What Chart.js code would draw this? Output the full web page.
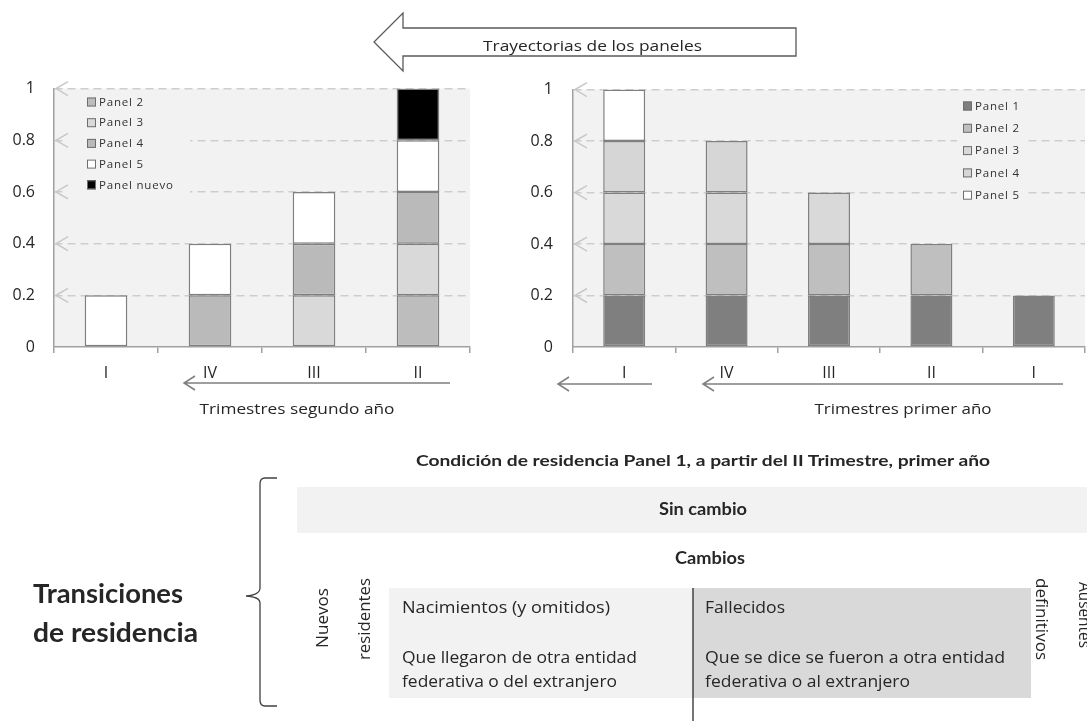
<!DOCTYPE html>
<html lang="es">
<head>
<meta charset="utf-8">
<script src="https://cdn.jsdelivr.net/npm/chart.js@4.4.1/dist/chart.umd.min.js"></script>
<style>
  html, body { margin: 0; padding: 0; background: #fff; }
  #lienzo { position: relative; width: 1087px; height: 721px; overflow: hidden; }
  #cajaSeg { position: absolute; left: 0; top: 60px; width: 490px; height: 360px; }
  #cajaPri { position: absolute; left: 500px; top: 60px; width: 587px; height: 360px; }
  #dibujo { position: absolute; left: 0; top: 0; z-index: 2; pointer-events: none; }
  #dibujo text { font-family: "Open Sans", sans-serif; fill: #262626; }
</style>
</head>
<body>
<div id="lienzo">
  <div id="cajaSeg"><canvas id="graficaSegundo"></canvas></div>
  <div id="cajaPri"><canvas id="graficaPrimero"></canvas></div>

  <svg id="dibujo" width="1087" height="721">
    <!-- flecha grande de trayectorias -->
    <polygon points="796,28 403,28 403,13 374,42 403,71 403,56 796,56" fill="#fff" stroke="#595959" stroke-width="1.3"/>
    <text x="483" y="51" font-size="15" textLength="219" lengthAdjust="spacingAndGlyphs">Trayectorias de los paneles</text>

    <!-- flechas bajo los ejes -->
    <g stroke="#7f7f7f" stroke-width="1.5" fill="none">
      <path d="M450 383 L184 383 M195 376 L184 383 L195 390"/>
      <path d="M652 384 L558 384 M569 377 L558 384 L569 391"/>
      <path d="M1063 384 L703 384 M714 377 L703 384 L714 391"/>
    </g>
    <text x="297" y="414" font-size="15" text-anchor="middle" textLength="195" lengthAdjust="spacingAndGlyphs">Trimestres segundo año</text>
    <text x="903" y="414" font-size="15" text-anchor="middle" textLength="177" lengthAdjust="spacingAndGlyphs">Trimestres primer año</text>

    <!-- parte inferior -->
    <text x="703" y="466" font-size="15" font-weight="700" text-anchor="middle" textLength="574" lengthAdjust="spacingAndGlyphs" style="font-family:Lato">Condición de residencia Panel 1, a partir del II Trimestre, primer año</text>

    <rect x="297" y="487" width="790" height="46" fill="#f2f2f2"/>
    <text x="703" y="515" font-size="16.5" font-weight="700" text-anchor="middle" textLength="88" lengthAdjust="spacingAndGlyphs" style="font-family:Lato">Sin cambio</text>
    <text x="710" y="564" font-size="16.5" font-weight="700" text-anchor="middle" textLength="70" lengthAdjust="spacingAndGlyphs" style="font-family:Lato">Cambios</text>

    <path d="M277 478 L265 478 Q260 478 260 484 L260 588 Q260 595 246 596 Q260 597 260 603 L260 700 Q260 706 265 706 L277 706" fill="none" stroke="#404040" stroke-width="1.3"/>
    <text x="33" y="603" font-size="26" font-weight="700" textLength="150" lengthAdjust="spacingAndGlyphs" style="font-family:Lato">Transiciones</text>
    <text x="33" y="642" font-size="26" font-weight="700" textLength="165" lengthAdjust="spacingAndGlyphs" style="font-family:Lato">de residencia</text>

    <rect x="389" y="588" width="304" height="110" fill="#f2f2f2"/>
    <rect x="693" y="588" width="338" height="110" fill="#d9d9d9"/>
    <line x1="693" y1="588" x2="693" y2="721" stroke="#1a1a1a" stroke-width="1.2"/>

    <text transform="translate(322,618) rotate(-90)" font-size="16" text-anchor="middle" dominant-baseline="central" textLength="60" lengthAdjust="spacingAndGlyphs">Nuevos</text>
    <text transform="translate(364,619) rotate(-90)" font-size="16" text-anchor="middle" dominant-baseline="central" textLength="82" lengthAdjust="spacingAndGlyphs">residentes</text>
    <text transform="translate(1042,619) rotate(90)" font-size="16" text-anchor="middle" dominant-baseline="central" textLength="82" lengthAdjust="spacingAndGlyphs">definitivos</text>
    <text transform="translate(1085,615) rotate(90)" font-size="16" text-anchor="middle" dominant-baseline="central" textLength="66" lengthAdjust="spacingAndGlyphs">Ausentes</text>

    <g font-size="16.5">
      <text x="402" y="613" textLength="208" lengthAdjust="spacingAndGlyphs">Nacimientos  (y omitidos)</text>
      <text x="402" y="663" textLength="235" lengthAdjust="spacingAndGlyphs">Que llegaron de otra entidad</text>
      <text x="402" y="687" textLength="215" lengthAdjust="spacingAndGlyphs">federativa o del extranjero</text>
      <text x="705" y="613" textLength="80" lengthAdjust="spacingAndGlyphs">Fallecidos</text>
      <text x="705" y="663" textLength="300" lengthAdjust="spacingAndGlyphs">Que se dice se fueron a otra entidad</text>
      <text x="705" y="687" textLength="205" lengthAdjust="spacingAndGlyphs">federativa o al extranjero</text>
    </g>
  </svg>
</div>

<script>
// trimestres (de derecha a izquierda en el tiempo)
const trimestresSegundo = ['I', 'IV', 'III', 'II'];
const trimestresPrimero = ['I', 'IV', 'III', 'II', 'I'];

// segundo año
const panel2Seg = [null, null, null, 0.2];
const panel3Seg = [null, null, 0.2, 0.2];
const panel4Seg = [null, 0.2, 0.2, 0.2];
const panel5Seg = [0.2, 0.2, 0.2, 0.2];
const panelNuevoSeg = [null, null, null, 0.2];

// primer año
const panel1Pri = [0.2, 0.2, 0.2, 0.2, 0.2];
const panel2Pri = [0.2, 0.2, 0.2, 0.2, null];
const panel3Pri = [0.2, 0.2, 0.2, null, null];
const panel4Pri = [0.2, 0.2, null, null, null];
const panel5Pri = [0.2, null, null, null, null];

const bordeBarra = '#7f7f7f';

Chart.defaults.font.family = '"Open Sans", sans-serif';
Chart.defaults.color = '#262626';

// fondo gris, flechitas "<" sobre el eje y leyenda tipo Excel
const adornos = {
  id: 'adornos',
  beforeDraw(chart) {
    const { ctx, chartArea: a } = chart;
    ctx.save();
    ctx.fillStyle = '#f2f2f2';
    ctx.fillRect(a.left, a.top, a.right - a.left, a.bottom - a.top);
    ctx.restore();
  },
  beforeDatasetsDraw(chart, args, o) {
    const { ctx, chartArea: a } = chart;
    const ejeY = chart.scales.y;
    ctx.save();
    ctx.fillStyle = '#f2f2f2';
    ctx.fillRect(o.caja[0], o.caja[1], o.caja[2], o.caja[3]);

    ctx.strokeStyle = '#c8c8c8';
    ctx.lineWidth = 1.5;
    ejeY.ticks.forEach(t => {
      if (t.value === 0) return;
      const py = ejeY.getPixelForValue(t.value);
      ctx.beginPath();
      ctx.moveTo(a.left + 14, py - 7);
      ctx.lineTo(a.left + 2, py);
      ctx.lineTo(a.left + 14, py + 7);
      ctx.stroke();
    });

    ctx.font = '11.5px "Open Sans"';
    ctx.letterSpacing = '0.8px';
    ctx.textBaseline = 'middle';
    chart.data.datasets.forEach((d, i) => {
      const yy = o.y + i * o.paso;
      ctx.fillStyle = d.backgroundColor;
      ctx.fillRect(o.x, yy - 4.5, 9, 9);
      ctx.strokeStyle = '#6e6e6e';
      ctx.lineWidth = 1;
      ctx.strokeRect(o.x + 0.5, yy - 4, 8, 8);
      ctx.fillStyle = '#333333';
      ctx.fillText(d.label, o.x + 12, yy + 0.5);
    });
    ctx.restore();
  }
};

function serie(label, data, color) {
  return {
    label, data,
    backgroundColor: color,
    borderColor: bordeBarra,
    borderWidth: 1.5,
    borderSkipped: false,
    barPercentage: 0.41,
    categoryPercentage: 1
  };
}

function opciones(anchoY, padIzq, padDer, padSup, leyenda) {
  return {
    responsive: true,
    maintainAspectRatio: false,
    animation: false,
    layout: { padding: { left: 0, right: padDer, top: padSup, bottom: 0 } },
    plugins: { legend: { display: false }, tooltip: { enabled: false }, adornos: leyenda },
    scales: {
      x: {
        stacked: true,
        grid: { display: true, offset: true, drawOnChartArea: false, drawTicks: true, tickLength: 6, color: '#a0a0a0', lineWidth: 1.5 },
        border: { color: '#a0a0a0', width: 1.5 },
        ticks: { padding: 11, font: { size: 16 }, color: '#262626' },
        afterFit: s => { s.height = 73; }
      },
      y: {
        stacked: true,
        min: 0,
        max: 1,
        ticks: {
          stepSize: 0.2, padding: padIzq, font: { size: 16 }, color: '#262626',
          callback: v => String(+v.toFixed(1))
        },
        grid: { drawTicks: false, lineWidth: 1.5, color: c => c.tick && c.tick.value === 0 ? 'rgba(0,0,0,0)' : '#cdcdcd' },
        border: { color: '#a0a0a0', width: 1.5, dash: [8, 5] },
        afterFit: s => { s.width = anchoY; }
      }
    }
  };
}

new Chart(document.getElementById('graficaSegundo'), {
  type: 'bar',
  data: {
    labels: trimestresSegundo,
    datasets: [
      serie('Panel 2', panel2Seg, '#bdbdbd'),
      serie('Panel 3', panel3Seg, '#d9d9d9'),
      serie('Panel 4', panel4Seg, '#bababa'),
      serie('Panel 5', panel5Seg, '#ffffff'),
      serie('Panel nuevo', panelNuevoSeg, '#000000')
    ]
  },
  options: opciones(54, 19, 20, 19, { caja: [67, 32, 123, 104], x: 87, y: 42, paso: 20.7 }),
  plugins: [adornos]
});

new Chart(document.getElementById('graficaPrimero'), {
  type: 'bar',
  data: {
    labels: trimestresPrimero,
    datasets: [
      serie('Panel 1', panel1Pri, '#7f7f7f'),
      serie('Panel 2', panel2Pri, '#bfbfbf'),
      serie('Panel 3', panel3Pri, '#d9d9d9'),
      serie('Panel 4', panel4Pri, '#d6d6d6'),
      serie('Panel 5', panel5Pri, '#ffffff')
    ]
  },
  options: opciones(73, 20, 2, 22, { caja: [457, 35, 68, 110], x: 463, y: 46, paso: 22.3 }),
  plugins: [adornos]
});
</script>
</body>
</html>
